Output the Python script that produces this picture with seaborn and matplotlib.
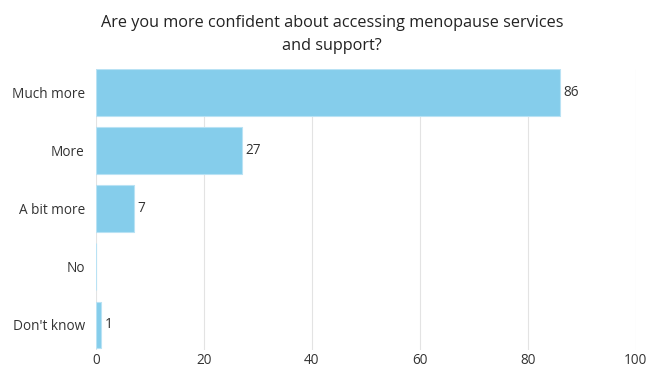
import matplotlib
matplotlib.use("Agg")
import matplotlib.pyplot as plt
import seaborn as sns
import pandas as pd

categories = ["Much more", "More", "A bit more", "No", "Don't know"]
counts = [86, 27, 7, 0, 1]
x_ticks = [0, 20, 40, 60, 80, 100]
title = "Are you more confident about accessing menopause services\nand support?"

sns.set_theme(style="white")
plt.rcParams["font.family"] = ["Open Sans", "DejaVu Sans"]

df = pd.DataFrame({"category": categories, "count": counts})

fig = plt.figure(figsize=(6.48, 3.69), dpi=100)
ax = fig.add_axes([0.148, 0.052, 0.833, 0.761])

sns.barplot(data=df, y="category", x="count", order=categories, orient="h",
            color="#85CDEB", saturation=1, width=0.8,
            edgecolor="#b9e2f4", linewidth=0.8, ax=ax, zorder=2)

ax.set_xlim(0, 100)
ax.set_ylim(4.43, -0.4)
ax.set_xticks(x_ticks)
ax.grid(axis="x", color="#e3e3e3", linewidth=0.8, zorder=0)
ax.grid(axis="y", visible=False)
for s in ax.spines.values():
    s.set_visible(False)
ax.set_xlabel("")
ax.set_ylabel("")
ax.tick_params(axis="both", length=0, labelsize=9.8, labelcolor="#333333")
ax.tick_params(axis="x", pad=2)
ax.tick_params(axis="y", pad=8)

for i, v in enumerate(counts):
    if v > 0:
        ax.text(v + 0.6, i, str(v), va="center", ha="left",
                fontsize=9.8, color="#333333")

fig.suptitle(title, fontsize=11.7, color="#222222", y=0.96, x=0.512,
             linespacing=1.6)

fig.savefig("out.png", dpi=100)
